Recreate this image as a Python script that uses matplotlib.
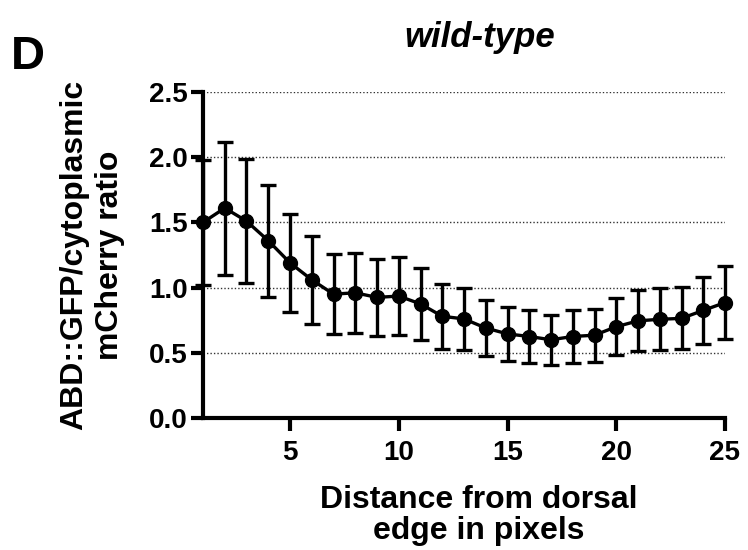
import numpy as np
import matplotlib.pyplot as plt

plt.rcParams['font.family'] = ['Liberation Sans', 'DejaVu Sans']

# Data (mean +/- error)
distance = list(range(1, 26))
ratio_mean = [1.50, 1.61, 1.51, 1.36, 1.19, 1.06, 0.95, 0.96, 0.925, 0.935,
              0.875, 0.78, 0.76, 0.69, 0.645, 0.625, 0.60, 0.625, 0.635, 0.70,
              0.745, 0.757, 0.764, 0.825, 0.885]
ratio_err = [0.48, 0.51, 0.475, 0.43, 0.375, 0.337, 0.305, 0.305, 0.295, 0.30,
             0.275, 0.25, 0.24, 0.218, 0.205, 0.20, 0.19, 0.20, 0.203, 0.22,
             0.233, 0.238, 0.238, 0.258, 0.278]
y_ticks = [0.0, 0.5, 1.0, 1.5, 2.0, 2.5]
x_ticks = [5, 10, 15, 20, 25]

fig = plt.figure(figsize=(7.48, 5.50), dpi=100)
ax = fig.add_axes([203 / 748, 1 - 418 / 550, 522 / 748, 326 / 550])

# dotted horizontal gridlines
for yv in y_ticks[1:]:
    ax.axhline(yv, color='#333333', lw=1.0, ls=(0, (1, 1.5)), zorder=0)

ax.errorbar(distance, ratio_mean, yerr=ratio_err, color='black', lw=2.4,
            marker='o', markersize=10, elinewidth=2.4, capsize=6, capthick=2.4,
            clip_on=False, zorder=3)

ax.set_xlim(1, 25)
ax.set_ylim(0, 2.5)
ax.set_xticks(x_ticks)
ax.set_yticks(y_ticks)
ax.set_yticklabels([f"{v:.1f}" for v in y_ticks])

for s in ['top', 'right']:
    ax.spines[s].set_visible(False)
for s in ['left', 'bottom']:
    ax.spines[s].set_linewidth(3)
ax.tick_params(width=3, length=9, labelsize=20)
ax.tick_params(axis='y', pad=2)
ax.tick_params(axis='x', pad=7)
for lab in ax.get_xticklabels() + ax.get_yticklabels():
    lab.set_fontweight('bold')

ax.set_xlabel("Distance from dorsal\nedge in pixels", fontsize=23,
              fontweight='bold', linespacing=1.05)
ax.xaxis.set_label_coords((479 - 203) / 522, -0.205)
ax.set_ylabel("ABD::GFP/cytoplasmic\nmCherry ratio", fontsize=23,
              fontweight='bold', linespacing=1.25)
ax.yaxis.set_label_coords(-0.15, 0.5)

fig.text(480 / 748, 1 - 37 / 550, "wild-type", fontsize=25, fontweight='bold',
         style='italic', ha='center', va='center')
fig.text(11 / 748, 1 - 57 / 550, "D", fontsize=34, fontweight='heavy',
         ha='left', va='center')

fig.savefig("out.png", dpi=100)
